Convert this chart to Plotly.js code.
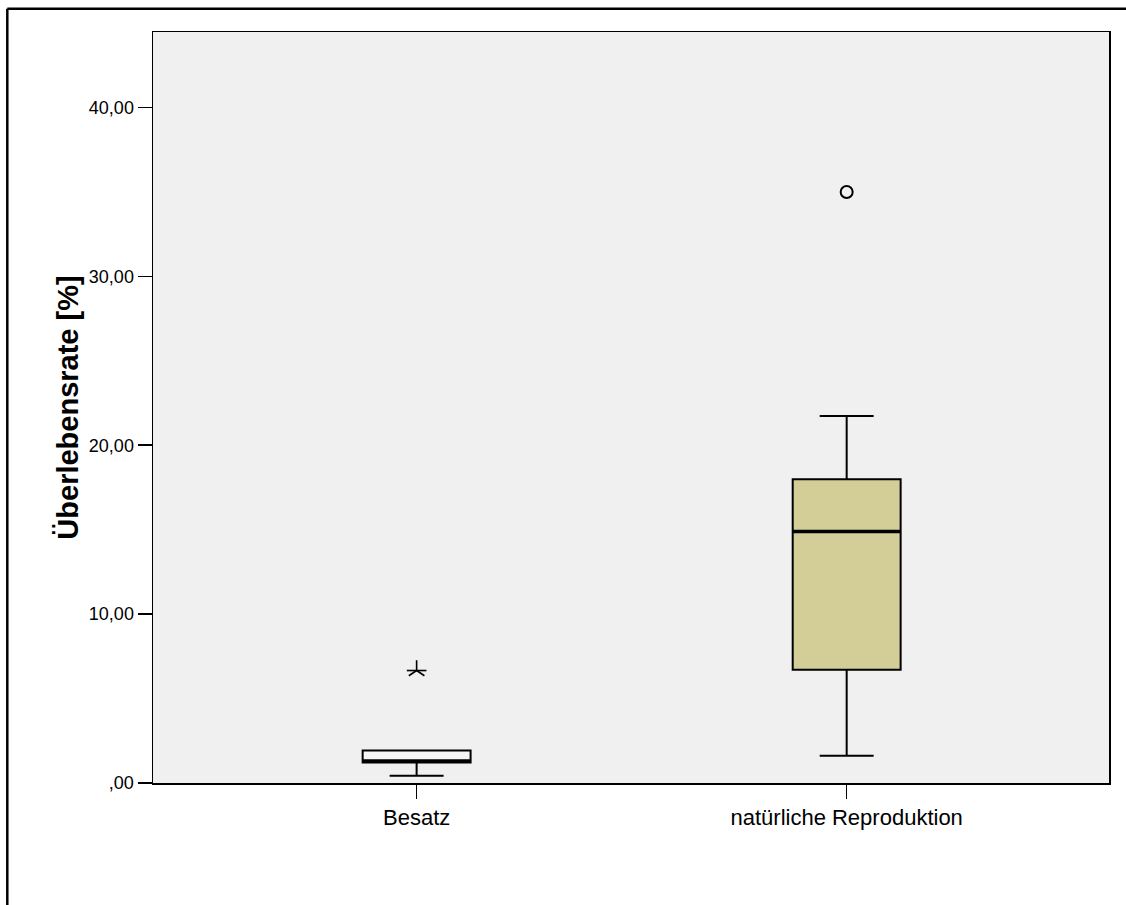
<!DOCTYPE html>
<html>
<head>
<meta charset="utf-8">
<script src="https://cdn.plot.ly/plotly-3.0.1.min.js"></script>
<style>
  html, body { margin: 0; padding: 0; background: #ffffff; }
  #chart { width: 1126px; height: 905px; }
</style>
</head>
<body>
<div id="chart"></div>
<script>
// Survival rate by origin of the fish (box summary statistics)
const groups = ['Besatz', 'natürliche Reproduktion'];
const q1Values = [1.22, 6.70];
const medianValues = [1.30, 14.89];
const q3Values = [1.93, 17.99];
const lowerWhiskers = [0.43, 1.62];
const upperWhiskers = [1.93, 21.73];
const boxFills = ['#F6F6F6', '#D3CE98'];

// Single flagged cases
const extremeGroups = ['Besatz'];
const extremeValues = [6.66];
const outlierGroups = ['natürliche Reproduktion'];
const outlierValues = [35.0];

// Axis tick labels (German decimal comma)
const yTickValues = [0, 10, 20, 30, 40];
const yTickLabels = [',00', '10,00', '20,00', '30,00', '40,00'];

const FONT = 'Liberation Sans, Arial, Helvetica, sans-serif';
const BOX_WIDTH = 0.251;

const traces = [];

groups.forEach((g, i) => {
  traces.push({
    type: 'box',
    orientation: 'v',
    x: [g],
    q1: [q1Values[i]],
    median: [medianValues[i]],
    q3: [q3Values[i]],
    lowerfence: [lowerWhiskers[i]],
    upperfence: [upperWhiskers[i]],
    width: BOX_WIDTH,
    whiskerwidth: 0.5,
    fillcolor: boxFills[i],
    line: { color: '#000000', width: 2 },
    boxpoints: false,
    hoverinfo: 'skip',
    showlegend: false
  });
  // Heavy median bar drawn as a flat box at the median value
  traces.push({
    type: 'box',
    orientation: 'v',
    x: [g],
    q1: [medianValues[i]],
    median: [medianValues[i]],
    q3: [medianValues[i]],
    lowerfence: [medianValues[i]],
    upperfence: [medianValues[i]],
    width: BOX_WIDTH,
    whiskerwidth: 0,
    fillcolor: 'rgba(0,0,0,0)',
    line: { color: '#000000', width: 3.5 },
    boxpoints: false,
    hoverinfo: 'skip',
    showlegend: false
  });
});

// Extreme value marked with a five-armed star (stem up, bar across, two legs down)
traces.push({
  type: 'scatter', mode: 'markers',
  x: extremeGroups, y: extremeValues,
  marker: { symbol: 'y-up-open', size: 13, color: '#000000', line: { color: '#000000', width: 1.6 } },
  hoverinfo: 'skip', showlegend: false
});
traces.push({
  type: 'scatter', mode: 'markers',
  x: extremeGroups, y: extremeValues,
  marker: { symbol: 'line-ew-open', size: 14, color: '#000000', line: { color: '#000000', width: 1.6 } },
  hoverinfo: 'skip', showlegend: false
});

// Outlier marked with an open circle
traces.push({
  type: 'scatter', mode: 'markers',
  x: outlierGroups, y: outlierValues,
  marker: { symbol: 'circle-open', size: 12, color: '#000000', line: { color: '#000000', width: 2 } },
  hoverinfo: 'skip', showlegend: false
});

const W = 1126, H = 905;
const margin = { l: 153, r: 17, t: 32, b: 122 };
const pw = W - margin.l - margin.r;
const ph = H - margin.t - margin.b;
const px = v => (v - margin.l) / pw;
const py = v => 1 - (v - margin.t) / ph;

const layout = {
  width: W,
  height: H,
  margin: margin,
  paper_bgcolor: '#ffffff',
  plot_bgcolor: '#F0F0F0',
  font: { family: FONT, color: '#000000' },
  showlegend: false,
  xaxis: {
    type: 'category',
    categoryarray: groups,
    range: [-0.613, 1.61],
    showgrid: false,
    zeroline: false,
    showline: true,
    mirror: true,
    linecolor: '#000000',
    linewidth: 1.5,
    ticks: 'outside',
    ticklen: 14,
    tickwidth: 1.5,
    tickcolor: '#000000',
    tickfont: { family: FONT, size: 22, color: '#000000' },
    fixedrange: true
  },
  yaxis: {
    range: [0, 44.47],
    tickvals: yTickValues,
    ticktext: yTickLabels,
    showgrid: false,
    zeroline: false,
    showline: true,
    mirror: true,
    linecolor: '#000000',
    linewidth: 1.5,
    ticks: 'outside',
    ticklen: 14,
    tickwidth: 1.5,
    tickcolor: '#000000',
    tickfont: { family: FONT, size: 18, color: '#000000' },
    title: {
      text: 'Überlebensrate [%]',
      font: { family: FONT, size: 29, color: '#000000', weight: 'bold' },
      standoff: 1
    },
    fixedrange: true
  },
  // Outer frame: top and left edges
  shapes: [
    { type: 'line', xref: 'paper', yref: 'paper', x0: px(7.3), x1: px(W + 10), y0: py(8.7), y1: py(8.7),
      line: { color: '#000000', width: 2.5 } },
    { type: 'line', xref: 'paper', yref: 'paper', x0: px(7.3), x1: px(7.3), y0: py(8.7), y1: py(H + 10),
      line: { color: '#000000', width: 2.5 } }
  ]
};

Plotly.newPlot('chart', traces, layout, { displayModeBar: false, staticPlot: true });
</script>
</body>
</html>
